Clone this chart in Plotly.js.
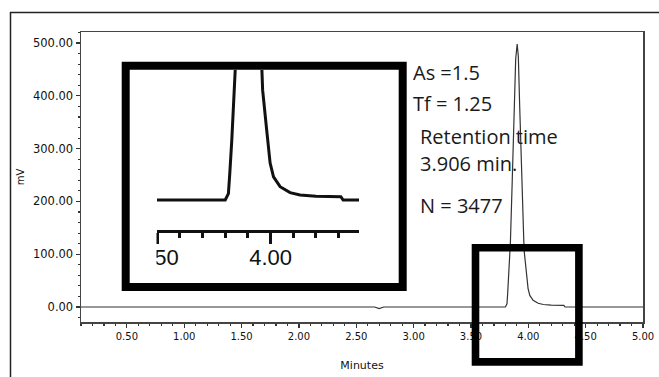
<!DOCTYPE html>
<html>
<head>
<meta charset="utf-8">
<script src="https://cdn.plot.ly/plotly-3.0.1.min.js"></script>
<style>html,body{margin:0;padding:0;background:#fff;}#chart{width:659px;height:377px;}</style>
</head>
<body>
<div id="chart"></div>
<script>
// Chromatogram data (time in minutes, signal in mV)
const timeMin = [0.10, 2.66, 2.70, 2.74, 3.80, 3.814, 3.82, 3.829, 3.844, 3.86, 3.875, 3.89, 3.903, 3.913, 3.925, 3.94, 3.961, 3.965, 3.983, 3.998, 4.013, 4.042, 4.086, 4.13, 4.20, 4.31, 4.32, 5.00];
const signalMV = [0, 0, -3, 0, 0, 6, 25, 57, 123, 240, 370, 470, 498, 475, 380, 250, 123, 104, 66, 35, 22, 12.6, 7, 4.7, 3.5, 3.2, 0, 0];

// Axis ticks
const xTickVals = [0.5, 1.0, 1.5, 2.0, 2.5, 3.0, 3.5, 4.0, 4.5, 5.0];
const xTickText = ["0.50", "1.00", "1.50", "2.00", "2.50", "3.00", "3.50", "4.00", "4.50", "5.00"];
const yTickVals = [0, 100, 200, 300, 400, 500];
const yTickText = ["0.00", "100.00", "200.00", "300.00", "400.00", "500.00"];
const insetTickVals = [3.5, 4.0, 4.5];
const insetTickText = ["3.50", "4.00", "4.50"];

// Peak parameters text
const notes = ["As =1.5", "Tf = 1.25", "Retention time", "3.906 min.", "N = 3477"];

// ---- layout helpers (pixel -> paper) ----
const W = 659, H = 377, L = 81, R = 643, T = 32, B = 322;
const px = x => (x - L) / (R - L);
const py = y => (B - y) / (B - T);

const traces = [
  {x: timeMin, y: signalMV, type: 'scatter', mode: 'lines', xaxis: 'x', yaxis: 'y',
   line: {color: '#333', width: 1.2}, hoverinfo: 'skip'},
  {x: timeMin, y: signalMV, type: 'scatter', mode: 'lines', xaxis: 'x2', yaxis: 'y2',
   line: {color: '#111', width: 3}, hoverinfo: 'skip'}
];

const noteX = [411, 411, 418, 418, 418];
const noteY = [72, 103.5, 136, 163, 205];
const annotations = notes.map((t, i) => ({
  text: t, xref: 'paper', yref: 'paper', x: px(noteX[i]), y: py(noteY[i]),
  xanchor: 'left', yanchor: 'middle', showarrow: false,
  font: {family: 'Open Sans', size: 20, color: '#1a1a1a'}
}));

function rect(x0, y0, x1, y1, opts) {
  return Object.assign({type: 'rect', xref: 'paper', yref: 'paper', layer: 'above',
    x0: px(x0), x1: px(x1), y0: py(y1), y1: py(y0)}, opts);
}
function line(x0, y0, x1, y1, opts) {
  return Object.assign({type: 'line', xref: 'paper', yref: 'paper', layer: 'above',
    x0: px(x0), x1: px(x1), y0: py(y0), y1: py(y1)}, opts);
}

const shapes = [
  // white masks inside inset (crop edges of the magnified picture)
  rect(129, 69, 156.5, 282, {fillcolor: '#fff', line: {width: 0}}),
  rect(359, 69, 399, 282, {fillcolor: '#fff', line: {width: 0}}),
  // thick inset frame
  rect(125.7, 65.7, 402.7, 287, {line: {color: '#000', width: 8}}),
  // thick highlight box on the peak base
  rect(475.5, 247.8, 578.9, 361.9, {line: {color: '#000', width: 7.6}}),
  // outer figure frame (top and left visible)
  line(10, 12.5, 662, 12.5, {line: {color: '#222', width: 1.5}}),
  line(10.5, 12, 10.5, 380, {line: {color: '#222', width: 1.5}})
];

const layout = {
  width: W, height: H,
  margin: {l: L, r: W - R, t: T, b: H - B},
  paper_bgcolor: '#fff', plot_bgcolor: '#fff',
  showlegend: false,
  xaxis: {
    range: [0.1, 5.0], tickvals: xTickVals, ticktext: xTickText,
    ticks: 'outside', ticklen: 4, tickwidth: 1.2, tickcolor: '#333',
    minor: {ticks: 'outside', dtick: 0.1, tick0: 0, ticklen: 2, tickwidth: 1.2, tickcolor: '#333'},
    showline: true, mirror: true, linecolor: '#444', linewidth: 1.5,
    showgrid: false, zeroline: false,
    tickfont: {family: 'DejaVu Sans', size: 10, color: '#111'},
    title: {text: 'Minutes', font: {family: 'DejaVu Sans', size: 11, color: '#111'}, standoff: 21}
  },
  yaxis: {
    range: [-28.4, 521], tickvals: yTickVals, ticktext: yTickText,
    ticks: 'outside', ticklen: 4, tickwidth: 1.2, tickcolor: '#333',
    minor: {ticks: 'outside', dtick: 20, tick0: 0, ticklen: 2, tickwidth: 1.2, tickcolor: '#333'},
    showline: true, mirror: true, linecolor: '#444', linewidth: 1.5,
    showgrid: false, zeroline: false,
    tickfont: {family: 'DejaVu Sans', size: 11.5, color: '#111'},
    title: {text: 'mV', font: {family: 'DejaVu Sans', size: 10, color: '#111'}, standoff: 6}
  },
  xaxis2: {
    domain: [px(157), px(400)], anchor: 'y2',
    range: [3.499, 3.499 + 243 / 226.7],
    tickvals: insetTickVals, ticktext: insetTickText,
    ticks: 'outside', ticklen: 11, tickwidth: 3, tickcolor: '#111',
    minor: {ticks: 'outside', dtick: 0.1, tick0: 0, ticklen: 5, tickwidth: 3, tickcolor: '#111'},
    showline: true, linecolor: '#111', linewidth: 3,
    showgrid: false, zeroline: false,
    ticklabelstandoff: -5,
    tickfont: {family: 'Liberation Sans', size: 22, color: '#111'}
  },
  yaxis2: {
    domain: [py(230), py(70)], anchor: 'x2',
    range: [-28.4, 123.1], visible: false
  },
  annotations: annotations,
  shapes: shapes
};

Plotly.newPlot('chart', traces, layout, {staticPlot: true, displayModeBar: false});
</script>
</body>
</html>
